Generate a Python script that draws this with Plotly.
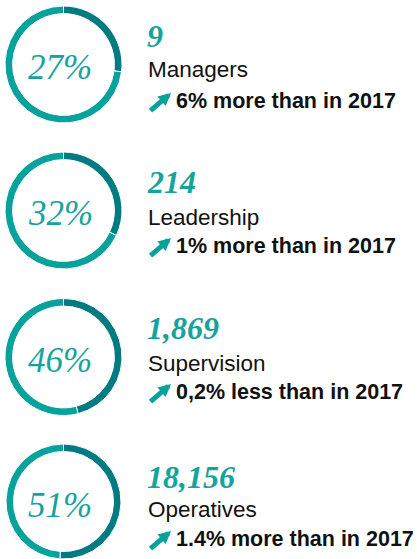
import plotly.graph_objects as go

# ---- data ----
categories = ["Managers", "Leadership", "Supervision", "Operatives"]
share_pct = [27, 32, 46, 51]
headcount = ["9", "214", "1,869", "18,156"]
change_text = ["6% more than in 2017", "1% more than in 2017",
               "0,2% less than in 2017", "1.4% more than in 2017"]

# ---- layout constants (pixels) ----
W, H = 417, 559
DARK = "#007b82"
LIGHT = "#08a29c"
TEXT_TEAL = "#17a39d"
donut_cy = [64.5, 210.5, 357.0, 502.5]
donut_cx = 63.5
R = 58.5
num_y = [36, 182, 328, 477]
label_y = [70, 217, 363, 509]
change_y = [101, 246, 392, 539]


def px_x(x):
    return x / W


def px_y(y):
    return 1 - y / H


fig = go.Figure()
for i, pct in enumerate(share_pct):
    cy = donut_cy[i]
    y0 = max(0.0, px_y(cy + R))
    y1 = min(1.0, px_y(cy - R))
    fig.add_trace(go.Pie(
        values=[pct, 100 - pct],
        labels=["share", "rest"],
        hole=0.87,
        sort=False,
        direction="clockwise",
        rotation=0,
        marker=dict(colors=[DARK, LIGHT], line=dict(color="white", width=1)),
        textinfo="none",
        hoverinfo="skip",
        showlegend=False,
        domain=dict(x=[px_x(donut_cx - R), px_x(donut_cx + R)], y=[y0, y1]),
    ))
    # percentage in centre
    fig.add_annotation(
        x=px_x(60), y=px_y(cy + 3), xref="paper", yref="paper",
        text=f"{pct}%", showarrow=False, xanchor="center", yanchor="middle",
        font=dict(family="Liberation Serif", size=35, color=TEXT_TEAL, style="italic"),
    )
    # headcount number
    fig.add_annotation(
        x=px_x(145), y=px_y(num_y[i]), xref="paper", yref="paper",
        text=headcount[i], showarrow=False, xanchor="left", yanchor="middle",
        font=dict(family="Liberation Serif", size=32, color=TEXT_TEAL,
                  style="italic", weight="bold"),
    )
    # category label
    fig.add_annotation(
        x=px_x(146), y=px_y(label_y[i]), xref="paper", yref="paper",
        text=categories[i], showarrow=False, xanchor="left", yanchor="middle",
        font=dict(family="Liberation Sans", size=22.5, color="#111111"),
    )
    # change text
    fig.add_annotation(
        x=px_x(174), y=px_y(change_y[i]), xref="paper", yref="paper",
        text=change_text[i], showarrow=False, xanchor="left", yanchor="middle",
        font=dict(family="Liberation Sans", size=21.5, color="#111111", weight="bold"),
    )
    # arrow
    fig.add_annotation(
        x=px_x(171), y=px_y(change_y[i] - 8), xref="paper", yref="paper",
        text="", showarrow=True, ax=-22, ay=19,
        arrowhead=2, arrowsize=0.5, arrowwidth=5, arrowcolor=LIGHT,
        standoff=0, startstandoff=0,
    )

fig.update_layout(
    width=W, height=H,
    margin=dict(l=0, r=0, t=0, b=0),
    paper_bgcolor="white", plot_bgcolor="white",
)
fig.write_html(
    "out.html",
    config={"displayModeBar": False},
    post_script="document.body.style.margin='0';document.body.style.padding='0';",
)
